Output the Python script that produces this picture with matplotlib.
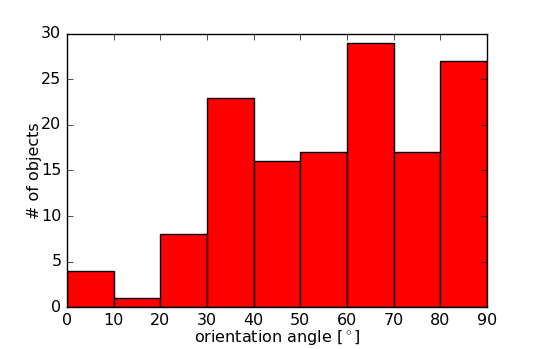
import matplotlib
matplotlib.use('Agg')
import matplotlib.pyplot as plt
import numpy as np

# histogram counts per 10 degree bin
bin_edges = [0, 10, 20, 30, 40, 50, 60, 70, 80, 90]
counts = [4, 1, 8, 23, 16, 17, 29, 17, 27]

plt.style.use('classic')
fig = plt.figure(figsize=(5.4, 3.49), dpi=100)
ax = fig.add_axes([0.124, 0.12, 0.778, 0.783])

ax.bar(bin_edges[:-1], counts, width=np.diff(bin_edges), align='edge',
       color='red', edgecolor='black', linewidth=1)

ax.set_xlim(0, 90)
ax.set_ylim(0, 30)
ax.set_xticks(bin_edges)
ax.set_yticks([0, 5, 10, 15, 20, 25, 30])
ax.tick_params(labelsize=11.5, pad=4)
ax.set_xlabel(r'orientation angle [$^\circ$]', fontsize=11.5, labelpad=0)
ax.set_ylabel('# of objects', fontsize=11.5, labelpad=-1)

fig.savefig('out.png', dpi=100)
